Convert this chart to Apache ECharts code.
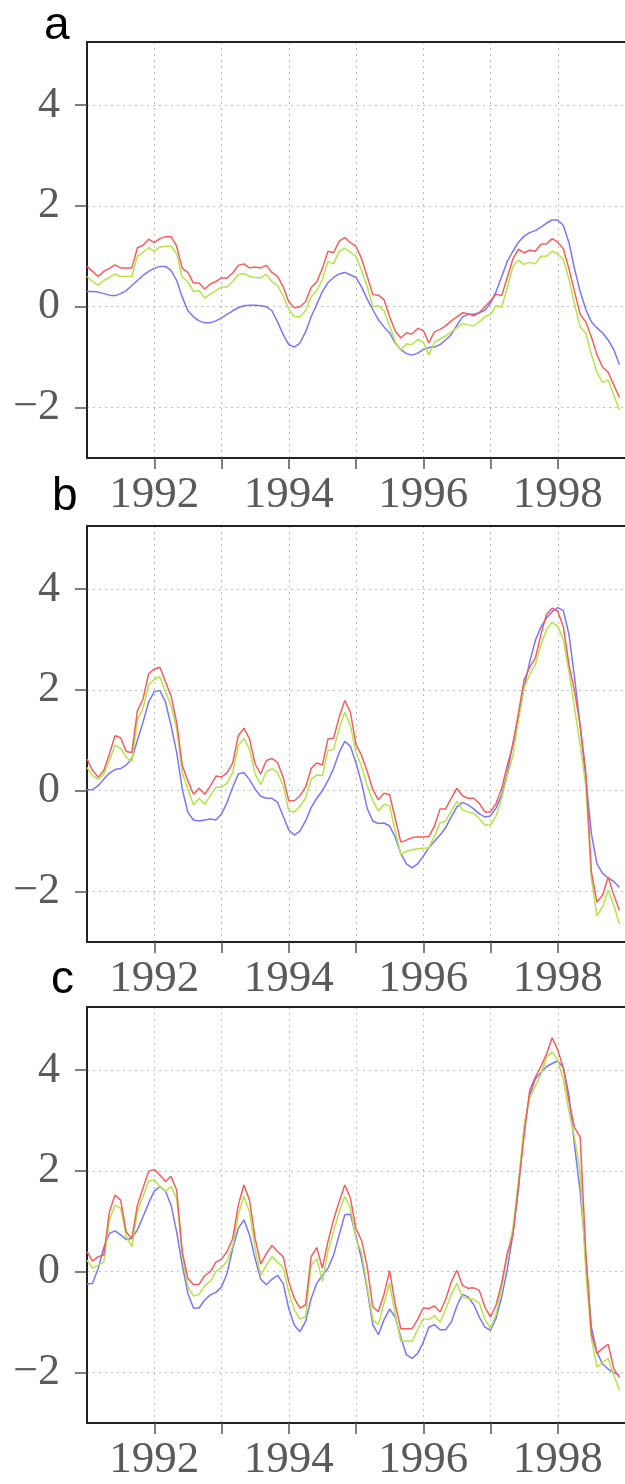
<!DOCTYPE html>
<html>
<head>
<meta charset="utf-8">
<script src="https://cdn.jsdelivr.net/npm/echarts@6/dist/echarts.min.js"></script>
<style>
  html, body { margin: 0; padding: 0; background: #fff; }
  #main { width: 625px; height: 1484px; }
</style>
</head>
<body>
<div id="main"></div>
<script>
// monthly values, Jan 1991 .. Dec 1998 (96 per series)
const startYear = 1991;
const panelNames = ["a", "b", "c"];
const yTicks = [-2, 0, 2, 4];

const aRed = [0.80, 0.70, 0.60, 0.70, 0.76, 0.83, 0.77, 0.77, 0.77, 1.17, 1.22, 1.34,
  1.27, 1.35, 1.39, 1.39, 1.20, 0.76, 0.68, 0.47, 0.47, 0.35, 0.45, 0.50,
  0.57, 0.57, 0.67, 0.82, 0.85, 0.77, 0.79, 0.77, 0.82, 0.68, 0.60, 0.40,
  0.10, -0.02, 0.00, 0.10, 0.38, 0.49, 0.76, 1.10, 1.07, 1.30, 1.37, 1.27,
  1.20, 0.95, 0.60, 0.24, 0.23, 0.14, -0.20, -0.48, -0.62, -0.52, -0.54, -0.43,
  -0.47, -0.72, -0.50, -0.45, -0.38, -0.28, -0.20, -0.12, -0.14, -0.18, -0.12, 0.00,
  0.12, 0.25, 0.22, 0.58, 0.95, 1.14, 1.07, 1.12, 1.10, 1.24, 1.25, 1.35,
  1.28, 1.15, 0.75, 0.30, -0.15, -0.30, -0.60, -0.95, -1.20, -1.30, -1.55, -1.80];
const aGreen = [0.60, 0.50, 0.43, 0.52, 0.58, 0.65, 0.60, 0.60, 0.60, 1.00, 1.08, 1.17,
  1.10, 1.18, 1.20, 1.20, 1.05, 0.58, 0.50, 0.30, 0.32, 0.17, 0.25, 0.32,
  0.39, 0.39, 0.50, 0.64, 0.66, 0.60, 0.58, 0.57, 0.64, 0.50, 0.42, 0.22,
  -0.05, -0.20, -0.20, -0.08, 0.20, 0.32, 0.54, 0.90, 0.85, 1.10, 1.16, 1.08,
  1.00, 0.72, 0.40, 0.00, 0.02, -0.08, -0.38, -0.70, -0.86, -0.74, -0.75, -0.65,
  -0.70, -0.96, -0.70, -0.64, -0.58, -0.50, -0.42, -0.33, -0.36, -0.38, -0.30, -0.20,
  -0.15, 0.02, -0.01, 0.38, 0.80, 0.92, 0.84, 0.88, 0.85, 1.00, 1.00, 1.10,
  1.05, 0.93, 0.55, 0.05, -0.40, -0.52, -0.95, -1.30, -1.50, -1.45, -1.75, -2.05];
const aBlue = [0.30, 0.30, 0.29, 0.26, 0.23, 0.22, 0.26, 0.32, 0.42, 0.52, 0.62, 0.70,
  0.76, 0.80, 0.80, 0.72, 0.52, 0.19, -0.08, -0.20, -0.28, -0.32, -0.32, -0.28,
  -0.22, -0.15, -0.08, -0.02, 0.02, 0.03, 0.03, 0.02, 0.00, -0.08, -0.30, -0.55,
  -0.75, -0.80, -0.72, -0.50, -0.20, 0.05, 0.30, 0.48, 0.58, 0.65, 0.68, 0.63,
  0.58, 0.39, 0.15, -0.06, -0.26, -0.40, -0.52, -0.72, -0.85, -0.93, -0.96, -0.92,
  -0.85, -0.81, -0.80, -0.75, -0.66, -0.55, -0.37, -0.20, -0.15, -0.15, -0.12, -0.07,
  0.07, 0.30, 0.60, 0.90, 1.10, 1.28, 1.40, 1.47, 1.51, 1.58, 1.66, 1.72,
  1.72, 1.61, 1.27, 0.75, 0.30, -0.05, -0.30, -0.42, -0.52, -0.66, -0.85, -1.15];

const bRed = [0.63, 0.40, 0.27, 0.40, 0.73, 1.09, 1.05, 0.78, 0.76, 1.59, 1.82, 2.32,
  2.41, 2.45, 2.16, 1.88, 1.36, 0.50, 0.20, -0.07, 0.05, -0.07, 0.09, 0.29,
  0.27, 0.36, 0.55, 1.09, 1.24, 1.03, 0.53, 0.33, 0.60, 0.64, 0.56, 0.27,
  -0.20, -0.20, -0.10, 0.07, 0.44, 0.55, 0.51, 1.03, 1.04, 1.46, 1.79, 1.56,
  0.92, 0.70, 0.38, 0.02, -0.18, -0.05, -0.08, -0.55, -1.02, -0.98, -0.93, -0.92,
  -0.92, -0.91, -0.70, -0.36, -0.36, -0.15, 0.05, -0.10, -0.15, -0.15, -0.25, -0.42,
  -0.42, -0.25, 0.05, 0.50, 0.91, 1.55, 2.20, 2.45, 2.63, 3.10, 3.50, 3.62,
  3.56, 3.25, 2.50, 1.97, 1.30, 0.38, -1.61, -2.21, -2.07, -1.71, -2.07, -2.37];
const bGreen = [0.46, 0.30, 0.23, 0.33, 0.60, 0.90, 0.84, 0.66, 0.58, 1.41, 1.63, 2.10,
  2.21, 2.26, 1.96, 1.69, 1.23, 0.36, 0.03, -0.28, -0.15, -0.27, -0.10, 0.07,
  0.07, 0.15, 0.36, 0.90, 1.04, 0.82, 0.33, 0.12, 0.38, 0.44, 0.36, 0.10,
  -0.40, -0.42, -0.31, -0.15, 0.23, 0.31, 0.30, 0.80, 0.82, 1.23, 1.56, 1.29,
  0.76, 0.48, 0.10, -0.20, -0.40, -0.27, -0.30, -0.80, -1.26, -1.20, -1.17, -1.15,
  -1.14, -1.13, -0.90, -0.64, -0.60, -0.40, -0.21, -0.38, -0.42, -0.45, -0.55, -0.68,
  -0.68, -0.50, -0.15, 0.30, 0.70, 1.40, 2.05, 2.30, 2.50, 2.90, 3.20, 3.34,
  3.26, 3.00, 2.36, 1.64, 0.91, 0.10, -1.74, -2.48, -2.30, -1.97, -2.27, -2.64];
const bBlue = [0.02, 0.02, 0.10, 0.23, 0.35, 0.42, 0.44, 0.51, 0.64, 1.00, 1.36, 1.76,
  1.96, 1.99, 1.76, 1.29, 0.76, 0.03, -0.43, -0.58, -0.60, -0.58, -0.56, -0.58,
  -0.46, -0.23, 0.07, 0.33, 0.36, 0.22, 0.03, -0.11, -0.15, -0.15, -0.23, -0.50,
  -0.78, -0.88, -0.80, -0.60, -0.33, -0.15, 0.00, 0.20, 0.44, 0.76, 0.98, 0.88,
  0.55, 0.15, -0.35, -0.60, -0.65, -0.64, -0.70, -0.92, -1.25, -1.45, -1.53, -1.45,
  -1.30, -1.13, -1.00, -0.88, -0.73, -0.52, -0.32, -0.23, -0.28, -0.36, -0.46, -0.52,
  -0.50, -0.34, -0.08, 0.35, 0.95, 1.48, 2.05, 2.56, 2.98, 3.25, 3.43, 3.55,
  3.63, 3.57, 3.10, 2.25, 1.28, 0.25, -0.85, -1.45, -1.64, -1.73, -1.80, -1.92];

const cRed = [0.40, 0.21, 0.30, 0.33, 1.19, 1.52, 1.42, 0.79, 0.66, 1.32, 1.66, 1.99,
  2.03, 1.92, 1.79, 1.89, 1.62, 0.40, -0.13, -0.26, -0.25, -0.08, 0.00, 0.19,
  0.25, 0.40, 0.66, 1.32, 1.72, 1.42, 0.66, 0.15, 0.36, 0.52, 0.40, 0.30,
  -0.20, -0.53, -0.72, -0.66, 0.30, 0.48, 0.07, 0.60, 1.03, 1.39, 1.72, 1.46,
  0.85, 0.62, 0.10, -0.70, -0.79, -0.45, 0.02, -0.65, -1.13, -1.13, -1.13, -0.95,
  -0.72, -0.73, -0.68, -0.80, -0.55, -0.20, 0.03, -0.27, -0.33, -0.32, -0.37, -0.70,
  -0.90, -0.66, -0.22, 0.37, 0.73, 1.72, 2.70, 3.60, 3.86, 4.07, 4.32, 4.64,
  4.40, 4.04, 3.38, 2.86, 2.67, 0.40, -1.23, -1.62, -1.52, -1.44, -1.92, -2.10];
const cGreen = [0.23, 0.07, 0.13, 0.19, 1.03, 1.32, 1.26, 0.70, 0.50, 1.19, 1.49, 1.80,
  1.82, 1.69, 1.59, 1.69, 1.46, 0.33, -0.30, -0.48, -0.45, -0.28, -0.19, 0.00,
  0.08, 0.21, 0.50, 1.13, 1.49, 1.19, 0.46, -0.08, 0.13, 0.30, 0.19, 0.08,
  -0.40, -0.76, -0.94, -0.89, 0.13, 0.26, -0.19, 0.40, 0.79, 1.19, 1.49, 1.26,
  0.65, 0.38, -0.30, -0.95, -1.05, -0.62, -0.23, -0.85, -1.38, -1.38, -1.38, -1.15,
  -0.93, -0.95, -0.87, -1.00, -0.75, -0.45, -0.23, -0.50, -0.53, -0.55, -0.62, -0.95,
  -1.12, -0.85, -0.30, 0.30, 0.86, 1.80, 2.90, 3.45, 3.68, 3.92, 4.25, 4.36,
  4.20, 3.80, 3.18, 2.65, 1.99, 0.00, -1.32, -1.89, -1.80, -1.72, -2.05, -2.35];
const cBlue = [-0.25, -0.23, 0.07, 0.48, 0.76, 0.81, 0.73, 0.64, 0.66, 0.83, 1.09, 1.36,
  1.60, 1.69, 1.60, 1.32, 0.79, 0.13, -0.43, -0.72, -0.72, -0.56, -0.46, -0.41,
  -0.30, -0.03, 0.46, 0.86, 1.03, 0.73, 0.26, -0.15, -0.26, -0.15, -0.07, -0.23,
  -0.73, -1.06, -1.19, -0.99, -0.53, -0.23, -0.07, 0.07, 0.33, 0.73, 1.13, 1.14,
  0.70, 0.25, -0.35, -1.05, -1.25, -0.95, -0.74, -0.90, -1.30, -1.65, -1.72, -1.62,
  -1.40, -1.10, -1.05, -1.15, -1.15, -1.00, -0.68, -0.45, -0.50, -0.65, -0.90, -1.10,
  -1.16, -0.92, -0.50, 0.05, 0.75, 1.65, 2.85, 3.50, 3.82, 3.95, 4.07, 4.13,
  4.18, 4.05, 3.50, 2.50, 1.60, 0.30, -1.10, -1.60, -1.83, -1.93, -2.00, -2.05];

const panels = [
  { red: aRed, green: aGreen, blue: aBlue },
  { red: bRed, green: bGreen, blue: bBlue },
  { red: cRed, green: cGreen, blue: cBlue }
];

const colors = { blue: "#7878f2", green: "#b4e34e", red: "#f06060" };
const gridTops = [42, 526, 1007];
const letterPos = [[44, 26], [52, 497], [51, 980]];

function toPoints(arr) {
  return arr.map((v, i) => [startYear + i / 12, v]);
}

let myChart = echarts.init(document.getElementById("main"), null, { renderer: "canvas" });

let grids = [], xAxes = [], yAxes = [], series = [], graphics = [];

panels.forEach((p, k) => {
  // the plot runs a little past the right edge of the page, so no right frame shows
  grids.push({ left: 87, top: gridTops[k], width: 542, height: 416 });
  xAxes.push({
    type: "value", gridIndex: k, min: 1991, max: 1999, interval: 1,
    axisLine: { show: true, onZero: false, lineStyle: { color: "#222", width: 2 } },
    axisTick: { show: true, length: 11, lineStyle: { color: "#555", width: 1.5 } },
    axisLabel: {
      margin: 15, color: "#5a5a5a", fontFamily: "Liberation Serif", fontSize: 45,
      showMinLabel: false, showMaxLabel: false,
      formatter: (v) => (v % 2 === 0 ? String(v) : "")
    },
    splitLine: { show: true, lineStyle: { color: "#bdbdbd", width: 1, type: [2, 4] } }
  });
  // top frame line
  xAxes.push({
    type: "value", gridIndex: k, position: "top", min: 1991, max: 1999,
    axisLine: { show: true, onZero: false, lineStyle: { color: "#222", width: 2 } },
    axisTick: { show: false }, axisLabel: { show: false }, splitLine: { show: false }
  });
  yAxes.push({
    type: "value", gridIndex: k, min: -3, max: 5.25,
    axisLine: { show: true, onZero: false, lineStyle: { color: "#222", width: 2 } },
    axisTick: { show: true, length: 12, customValues: yTicks, lineStyle: { color: "#555", width: 1.5 } },
    axisLabel: {
      margin: 27, color: "#5a5a5a", fontFamily: "Liberation Serif", fontSize: 44,
      customValues: yTicks,
      formatter: (v) => (v < 0 ? "\u2212" + Math.abs(v) : String(v))
    },
    splitLine: { show: true, lineStyle: { color: "#bdbdbd", width: 1, type: [2, 4] } }
  });
  ["blue", "green", "red"].forEach((c) => {
    series.push({
      type: "line", xAxisIndex: k * 2, yAxisIndex: k,
      data: toPoints(p[c]), showSymbol: false, symbol: "none",
      lineStyle: { color: colors[c], width: 1.5 },
      animation: false
    });
  });
  graphics.push({
    type: "text", x: letterPos[k][0], y: letterPos[k][1],
    style: {
      text: panelNames[k], fill: "#000",
      font: "46px 'Liberation Sans'", verticalAlign: "middle"
    }
  });
});

let options = {
  backgroundColor: "#fff",
  animation: false,
  grid: grids,
  xAxis: xAxes,
  yAxis: yAxes,
  series: series,
  graphic: graphics
};

myChart.setOption(options);
</script>
</body>
</html>
